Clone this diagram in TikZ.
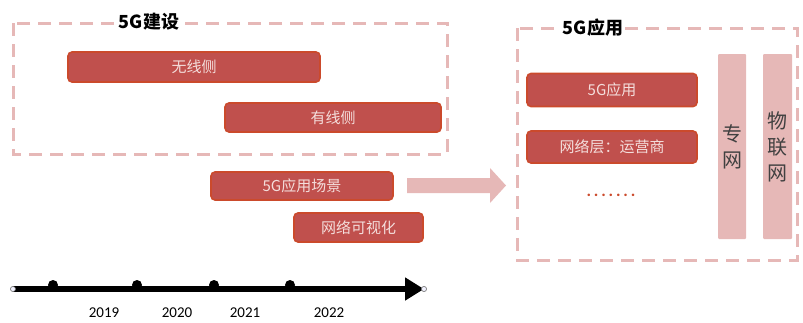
\documentclass[tikz,border=0pt]{standalone}
\usepackage{fontspec}
\setmainfont{Carlito}
\newfontfamily\cjk{Noto Sans CJK SC}
\usetikzlibrary{arrows.meta}
\definecolor{barfill}{HTML}{C0504D}
\definecolor{barline}{HTML}{CB4A2C}
\definecolor{barfont}{HTML}{F4DEDC}
\definecolor{pinkline}{HTML}{E6B8B7}
\definecolor{colfill}{HTML}{E6B8B7}
\definecolor{coltext}{HTML}{404040}
\tikzset{
  bar/.style={draw=barline, fill=barfill, line width=1.6pt, rounded corners=4pt,
    text=barfont, font=\fontsize{15}{17}\selectfont\cjk, inner sep=0pt},
  groupbox/.style={draw=pinkline, line width=3pt, dash pattern=on 13pt off 8pt},
  grouptitle/.style={fill=white, font=\fontsize{18}{20}\selectfont\bfseries\cjk, text=black, inner sep=1pt},
  column/.style={fill=colfill, inner sep=0pt, rounded corners=1pt, text=coltext,
    font=\fontsize{20}{26}\selectfont\cjk, align=center},
  year/.style={font=\fontsize{15}{17}\selectfont, text=black, inner sep=1pt},
  tick/.style={fill=black},
  endpt/.style={circle, draw=gray, fill=blue!5, line width=0.6pt, minimum size=5pt, inner sep=0pt}
}
\begin{document}
\begin{tikzpicture}[x=1pt,y=-1pt]
\useasboundingbox (0,0) rectangle (803,322);
% left group
\draw[groupbox] (13,23) rectangle (447,154);
\node[grouptitle] (t1) at (149,22) {5G建设};
\node[bar, minimum width=252pt, minimum height=30pt] (wx) at (194,67) {无线侧};
\node[bar, minimum width=216pt, minimum height=29pt] (yx) at (333,117.5) {有线侧};
\node[bar, minimum width=182pt, minimum height=28pt] (cj) at (302,186) {5G应用场景};
\node[bar, minimum width=129pt, minimum height=29pt] (ks) at (358.5,227.5) {网络可视化};
% big arrow
\fill[pinkline] (407,178) -- (490,178) -- (490,168) -- (506,185.5) -- (490,203) -- (490,193) -- (407,193) -- cycle;
% right group
\draw[groupbox] (517,28) rectangle (797,260);
\node[grouptitle] (t2) at (593,28) {5G应用};
\node[bar, minimum width=170pt, minimum height=33pt] (yy) at (612,90) {5G应用};
\node[bar, minimum width=170pt, minimum height=32pt] (wl) at (612,147) {网络层：运营商};
\node[text=barline, font=\fontsize{17}{15}\selectfont\bfseries, inner sep=0pt] (dots) at (611,195) {.\,.\,.\,.\,.\,.\,.};
\node[column, minimum width=28pt, minimum height=185pt] (zw) at (732,146.5) {专\\网};
\node[column, minimum width=29pt, minimum height=185pt] (wlw) at (777.5,146.5) {物\\联\\网};
% timeline
\foreach \x/\n in {53/a,137/b,214/c,290/d}{
  \fill[tick] (\x,285) circle (5pt);
}
\node[endpt] (s) at (13,289) {};
\node[endpt] (e) at (424,289) {};
\draw[line width=6pt, -{Triangle[length=19pt,width=22pt]}] (s.center) -- (e.center);
\node[endpt] at (13,289) {};
\node[endpt] at (424,289) {};
\node[year] (y1) at (104,313) {2019};
\node[year] (y2) at (177,313) {2020};
\node[year] (y3) at (245,313) {2021};
\node[year] (y4) at (329,313) {2022};
\end{tikzpicture}
\end{document}
